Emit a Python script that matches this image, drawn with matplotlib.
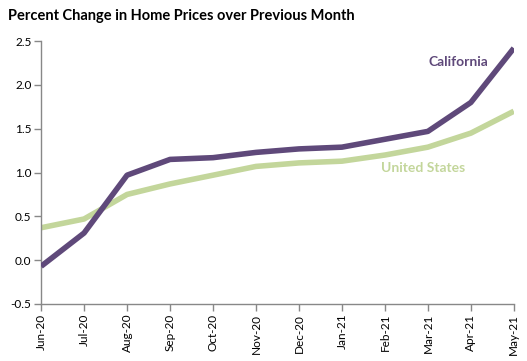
import numpy as np
import matplotlib
matplotlib.use("Agg")
import matplotlib.pyplot as plt

plt.rcParams['font.family'] = ['Lato', 'DejaVu Sans']

months = ["Jun-20", "Jul-20", "Aug-20", "Sep-20", "Oct-20", "Nov-20",
          "Dec-20", "Jan-21", "Feb-21", "Mar-21", "Apr-21", "May-21"]
california = [-0.07, 0.31, 0.97, 1.15, 1.17, 1.23, 1.27, 1.29, 1.38, 1.47, 1.80, 2.42]
united_states = [0.37, 0.47, 0.75, 0.87, 0.97, 1.07, 1.11, 1.13, 1.20, 1.29, 1.45, 1.70]

CA_COLOR = "#5F497A"
US_COLOR = "#C3D69B"

fig = plt.figure(figsize=(5.27, 3.61), dpi=100)
ax = fig.add_axes([0.078, 0.158, 0.897, 0.728])

x = np.arange(len(months))
ax.plot(x, california, color=CA_COLOR, lw=4, solid_capstyle="butt", zorder=3)
ax.plot(x, united_states, color=US_COLOR, lw=4, solid_capstyle="butt", zorder=2)

ax.set_xlim(0, len(months) - 1)
ax.set_ylim(-0.5, 2.5)
ax.set_yticks(np.arange(-0.5, 2.51, 0.5))
ax.set_yticklabels([f"{v:.1f}" for v in np.arange(-0.5, 2.51, 0.5)], fontsize=8.5)
ax.set_xticks(x)
ax.set_xticklabels(months, rotation=90, fontsize=8.5)

for s in ["top", "right"]:
    ax.spines[s].set_visible(False)
for s in ["left", "bottom"]:
    ax.spines[s].set_color("#888888")
    ax.spines[s].set_linewidth(1)
ax.tick_params(axis="both", color="#888888", length=5, width=1, pad=2)

ax.text(10.4, 2.26, "California", color=CA_COLOR, fontsize=10, fontweight="bold",
        ha="right", va="center")
ax.text(9.86, 1.05, "United States", color=US_COLOR, fontsize=10, fontweight="bold",
        ha="right", va="center")

fig.text(0.015, 0.955, "Percent Change in Home Prices over Previous Month",
         fontsize=10.5, fontweight="bold", ha="left", va="center")

fig.savefig("out.png", dpi=100)
